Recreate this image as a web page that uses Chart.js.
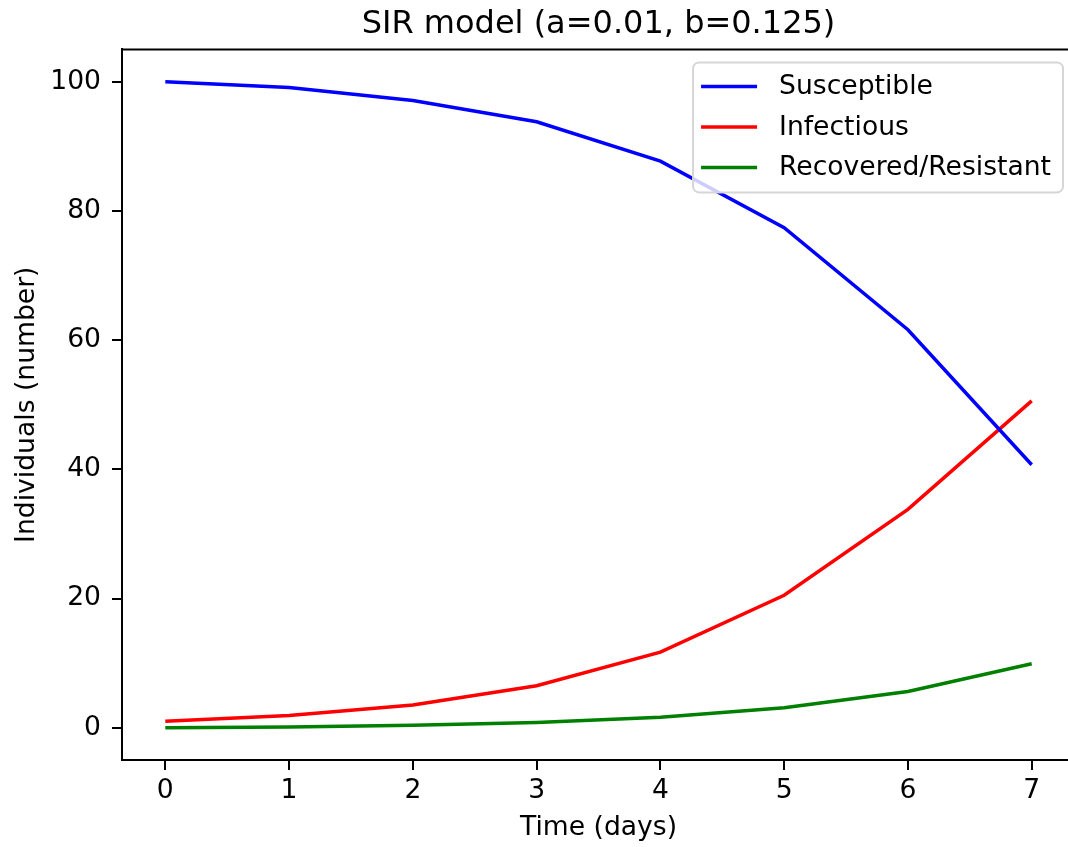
<!DOCTYPE html>
<html><head><meta charset="utf-8">
<script src="https://cdn.jsdelivr.net/npm/chart.js@4"></script>
<style>html,body{margin:0;padding:0;overflow:hidden;background:#fff}canvas{display:block}</style>
</head><body>
<canvas id="c" width="1080" height="847"></canvas>
<script>
const days = [0, 1, 2, 3, 4, 5, 6, 7];
const susceptible = [100, 99.1, 97.1, 93.8, 87.7, 77.4, 61.6, 40.7];
const infectious = [1.0, 1.9, 3.5, 6.5, 11.7, 20.5, 33.8, 50.6];
const recovered = [0, 0.12, 0.36, 0.8, 1.6, 3.1, 5.6, 9.9];
const xTicks = [0, 1, 2, 3, 4, 5, 6, 7];
const yTicks = [0, 20, 40, 60, 80, 100];
const seriesNames = ['Susceptible', 'Infectious', 'Recovered/Resistant'];
const seriesColors = ['#0000ff', '#ff0000', '#008000'];
const titleText = 'SIR model (a=0.01, b=0.125)';
const xTitle = 'Time (days)';
const yTitle = 'Individuals (number)';

const FONT = "'DejaVu Sans', sans-serif";
const FS = 26.6;
const pts = arr => days.map((d, i) => ({x: d, y: arr[i]}));
const seriesData = [susceptible, infectious, recovered];

const frameAndLegend = {
  id: 'frameAndLegend',
  afterDraw(chart) {
    const {ctx, chartArea: a} = chart;
    ctx.save();
    ctx.strokeStyle = '#000';
    ctx.lineWidth = 2;
    ctx.beginPath(); ctx.moveTo(a.left - 1, a.top); ctx.lineTo(a.right + 1, a.top); ctx.stroke();
    // legend
    ctx.font = FS + 'px ' + FONT;
    const textW = Math.max(...seriesNames.map(n => ctx.measureText(n).width));
    const handleX = 8, handleLen = 56, textX = 86, padR = 12;
    const bw = textX + textW + padR;
    const bh = 130;
    const bx = a.right - 12 - bw, by = a.top + 13;
    const r = 6;
    ctx.beginPath();
    ctx.moveTo(bx + r, by);
    ctx.arcTo(bx + bw, by, bx + bw, by + bh, r);
    ctx.arcTo(bx + bw, by + bh, bx, by + bh, r);
    ctx.arcTo(bx, by + bh, bx, by, r);
    ctx.arcTo(bx, by, bx + bw, by, r);
    ctx.closePath();
    ctx.fillStyle = 'rgba(255,255,255,0.8)';
    ctx.fill();
    ctx.strokeStyle = '#d6d6d6';
    ctx.lineWidth = 2;
    ctx.stroke();
    ctx.textBaseline = 'middle';
    ctx.textAlign = 'left';
    seriesNames.forEach((n, i) => {
      const cy = by + 24 + i * 40.5;
      ctx.strokeStyle = seriesColors[i];
      ctx.lineWidth = 3.5;
      ctx.beginPath();
      ctx.moveTo(bx + handleX, cy); ctx.lineTo(bx + handleX + handleLen, cy);
      ctx.stroke();
      ctx.fillStyle = '#000';
      ctx.fillText(n, bx + textX, cy + 1);
    });
    ctx.restore();
  }
};

new Chart(document.getElementById('c'), {
  type: 'line',
  data: {
    datasets: seriesNames.map((n, i) => ({
      label: n,
      data: pts(seriesData[i]),
      borderColor: seriesColors[i],
      backgroundColor: seriesColors[i],
      borderWidth: 3.5,
      pointRadius: 0,
      tension: 0,
      fill: false
    }))
  },
  options: {
    responsive: false,
    animation: false,
    layout: {padding: {left: 0, right: 5, top: 0, bottom: 0}},
    plugins: {
      legend: {display: false},
      tooltip: {enabled: false},
      title: {
        display: true,
        fullSize: false,
        text: titleText,
        color: '#000',
        font: {family: FONT, size: 32, weight: 'normal'},
        padding: {top: 5, bottom: 6}
      }
    },
    scales: {
      x: {
        type: 'linear',
        min: -0.35, max: 7.35,
        afterBuildTicks: s => { s.ticks = xTicks.map(v => ({value: v})); },
        afterFit: s => { s.height = 87; },
        ticks: {color: '#000', font: {family: FONT, size: FS}, padding: 5, maxRotation: 0,
                callback: v => String(v)},
        grid: {drawOnChartArea: false, drawTicks: true, tickLength: 10, color: '#000', lineWidth: 2},
        border: {display: true, color: '#000', width: 2},
        title: {display: true, text: xTitle, color: '#000', font: {family: FONT, size: FS}, padding: {top: 0, bottom: 3}}
      },
      y: {
        type: 'linear',
        min: -5, max: 105,
        afterBuildTicks: s => { s.ticks = yTicks.map(v => ({value: v})); },
        afterFit: s => { s.width = 122; },
        ticks: {color: '#000', font: {family: FONT, size: FS}, padding: 11,
                callback: v => String(v)},
        grid: {drawOnChartArea: false, drawTicks: true, tickLength: 10, color: '#000', lineWidth: 2},
        border: {display: true, color: '#000', width: 2},
        title: {display: true, text: yTitle, color: '#000', font: {family: FONT, size: FS}, padding: {top: 11, bottom: 0}}
      }
    }
  },
  plugins: [frameAndLegend]
});
</script>
</body></html>
